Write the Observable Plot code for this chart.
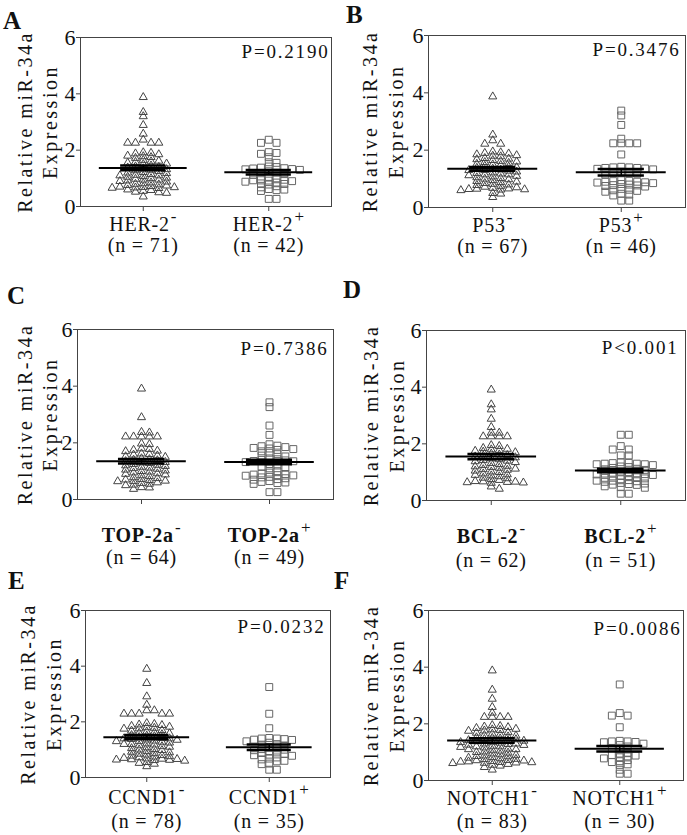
<!DOCTYPE html>
<html><head><meta charset="utf-8">
<script src="https://cdn.jsdelivr.net/npm/d3@7"></script>
<script src="https://cdn.jsdelivr.net/npm/@observablehq/plot@0.6"></script>
<style>
body{margin:0;background:#fff;}
#wrap{position:relative;width:687px;height:835px;overflow:hidden;background:#fff;font-family:"Liberation Serif","Times New Roman",serif;}
.panel{position:absolute;}
.letter{position:absolute;font-weight:bold;font-size:25px;line-height:1;color:#111;font-family:"Liberation Serif","Times New Roman",serif;}
g[aria-description="ylab"] text{letter-spacing:2.5px;}
g[aria-description="pval"] text{letter-spacing:1.8px;}
g[aria-description="catname"] text, g[aria-description="catn"] text{letter-spacing:0.8px;}
</style></head><body><div id="wrap"></div>
<script>
// ---- data (relative miR-34a expression) ----
const her2Neg = [3.88,3.35,3.2,2.89,2.58,2.37,2.26,2.26,2.26,2.26,
  1.92,1.9,1.88,1.85,1.8,1.78,1.75,1.72,
  1.65,1.62,1.6,1.58,1.55,1.52,1.5,
  1.45,1.42,1.4,1.38,1.35,1.32,
  1.28,1.25,1.22,1.2,1.18,1.15,
  1.12,1.1,1.08,1.05,1.02,1.0,
  0.98,0.95,0.92,0.9,0.88,0.85,
  0.82,0.8,0.78,0.76,0.74,0.72,
  0.7,0.69,0.68,0.67,0.66,0.65,
  0.6,0.58,0.55,0.52,0.5,0.48,
  1.3,1.1,0.95,0.35];
const her2Pos = [2.37,2.26,2.26,1.93,1.9,1.87,1.75,1.57,1.55,0.27,0.27,
  1.42,1.4,1.38,1.36,1.35,1.33,1.32,1.3,
  1.25,1.2,1.18,1.15,1.12,
  1.05,1.0,0.98,0.95,0.93,0.92,0.9,
  0.88,0.85,0.82,0.8,0.78,
  0.72,0.68,0.62,0.6,0.58,0.55];
const p53Neg = [3.87,2.54,2.34,2.22,2.22,
  1.95,1.92,1.9,1.88,1.85,1.82,1.8,1.78,
  1.72,1.7,1.68,1.65,1.62,1.6,1.58,
  1.55,1.52,1.5,1.48,1.45,1.42,1.4,
  1.38,1.35,1.32,1.3,1.28,1.25,1.22,
  1.2,1.18,1.15,1.12,1.1,1.08,1.05,
  1.02,1.0,0.98,0.95,0.92,0.9,0.88,
  0.85,0.82,0.8,0.78,0.75,0.72,0.7,
  0.68,0.66,0.65,0.64,0.63,0.62,0.6,
  0.5,0.48,0.36,1.3,1.15];
const p53Pos = [3.38,3.21,2.88,2.4,2.24,2.24,2.24,2.24,1.85,0.24,0.24,
  1.42,1.4,1.4,1.38,1.38,1.36,1.35,1.33,
  1.25,1.22,1.2,1.18,1.15,
  0.95,0.93,0.92,0.9,0.9,0.88,0.87,0.85,
  0.82,0.8,0.78,0.77,0.75,0.73,
  0.65,0.62,0.6,0.58,0.55,
  0.48,0.45,0.42];
const top2aNeg = [3.91,2.9,2.38,2.36,2.22,2.22,2.22,2.22,2.22,
  1.97,1.95,1.8,1.78,1.75,1.72,1.7,
  1.62,1.6,1.58,1.55,1.52,1.5,
  1.45,1.42,1.4,1.38,1.35,1.32,
  1.28,1.25,1.22,1.2,1.18,1.15,
  1.1,1.08,1.05,1.02,1.0,0.98,
  0.95,0.92,0.9,0.88,0.85,0.82,
  0.78,0.75,0.72,0.7,0.68,0.66,0.65,0.64,
  0.6,0.58,0.55,0.52,0.5,
  0.43,0.42,0.37,1.3,1.12];
const top2aPos = [3.43,3.26,2.61,2.28,0.26,0.26,
  1.95,1.9,1.88,1.85,1.82,1.8,1.78,1.75,
  1.7,1.65,1.6,1.55,1.52,
  1.45,1.42,1.4,1.38,1.36,1.35,1.32,
  1.25,1.2,1.15,1.12,1.1,
  1.0,0.95,0.92,0.9,0.88,0.86,0.85,0.84,
  0.8,0.78,0.75,0.72,0.7,
  0.65,0.62,0.6,0.58,0.55];
const bcl2Neg = [3.91,3.39,3.21,2.88,2.59,2.39,2.39,2.26,2.26,2.26,2.26,
  1.95,1.92,1.85,1.82,1.8,1.78,1.75,1.72,1.7,
  1.65,1.62,1.6,1.58,1.55,1.52,
  1.48,1.45,1.42,1.4,1.38,1.35,1.32,
  1.28,1.25,1.22,1.2,1.18,1.15,
  1.12,1.1,1.08,1.05,1.02,1.0,
  0.95,0.92,0.9,0.88,0.85,
  0.8,0.78,0.75,0.72,
  0.68,0.67,0.66,0.65,0.64,0.63,0.62,
  0.49,0.41];
const bcl2Pos = [2.32,2.32,1.92,1.8,1.8,1.59,1.59,0.24,0.24,
  1.35,1.33,1.32,1.3,1.3,1.28,1.28,1.25,
  1.2,1.18,1.15,1.12,1.1,1.08,
  1.02,1.0,0.98,0.96,0.95,0.93,0.92,
  0.9,0.88,0.86,0.85,0.82,0.8,0.78,
  0.75,0.72,0.7,0.7,0.68,0.66,
  0.62,0.6,0.58,0.56,0.55,
  0.5,0.47,0.45];
const ccnd1Neg = [3.9,3.39,2.91,2.61,2.41,2.41,2.29,2.29,2.29,2.29,2.29,
  1.95,1.92,1.9,1.88,1.85,1.82,1.8,1.78,1.76,1.75,
  1.7,1.68,1.65,1.62,1.6,1.58,1.55,1.52,
  1.5,1.48,1.45,1.42,1.4,1.38,1.36,1.35,
  1.32,1.3,1.28,1.25,1.22,1.2,1.18,
  1.15,1.12,1.1,1.08,1.05,1.02,1.0,
  0.98,0.95,0.92,0.9,0.88,0.85,0.82,
  0.8,0.78,0.76,0.75,0.72,0.7,
  0.68,0.67,0.66,0.65,0.64,0.63,0.62,0.6,
  0.55,0.52,0.49,0.4,1.4,1.3,1.2];
const ccnd1Pos = [3.25,2.29,1.77,0.28,0.28,
  1.42,1.4,1.4,1.38,1.36,1.35,
  1.3,1.25,1.2,1.18,1.15,
  1.1,1.05,1.02,1.0,0.98,0.95,
  0.9,0.88,0.85,0.82,0.8,0.78,
  0.72,0.68,0.65,0.6,0.58,
  0.5,0.48];
const notch1Neg = [3.88,3.2,2.88,2.59,2.39,2.24,2.24,2.24,2.24,
  1.95,1.92,1.9,1.88,1.85,1.82,1.8,1.78,1.76,1.75,
  1.7,1.68,1.65,1.62,1.6,1.58,1.55,1.52,1.5,
  1.48,1.46,1.45,1.42,1.4,1.38,1.36,1.35,1.33,
  1.3,1.28,1.26,1.25,1.22,1.2,1.18,1.16,
  1.12,1.1,1.08,1.05,1.02,1.0,0.98,
  0.95,0.92,0.9,0.88,0.86,0.85,0.82,
  0.8,0.78,0.76,0.75,0.72,0.71,0.7,
  0.68,0.67,0.66,0.65,0.64,0.63,0.62,0.61,
  0.58,0.55,0.52,0.47,0.38,
  1.42,1.3,1.2,1.1];
const notch1Pos = [3.39,2.38,2.29,2.29,1.88,0.24,0.24,
  1.4,1.38,1.38,1.36,1.35,1.3,
  1.25,1.2,1.15,1.1,
  0.98,0.95,0.9,0.88,0.85,0.82,
  0.78,0.72,0.68,0.65,
  0.57,0.55,0.38];

const negGroups = [her2Neg, p53Neg, top2aNeg, bcl2Neg, ccnd1Neg, notch1Neg];
const posGroups = [her2Pos, p53Pos, top2aPos, bcl2Pos, ccnd1Pos, notch1Pos];
const negNames = ["HER-2\u207B","P53\u207B","TOP-2a\u207B","BCL-2\u207B","CCND1\u207B","NOTCH1\u207B"];
const posNames = ["HER-2\u207A","P53\u207A","TOP-2a\u207A","BCL-2\u207A","CCND1\u207A","NOTCH1\u207A"];
const negN = ["(n = 71)","(n = 67)","(n = 64)","(n = 62)","(n = 78)","(n = 83)"];
const posN = ["(n = 42)","(n = 46)","(n = 49)","(n = 51)","(n = 35)","(n = 30)"];
const pLabels = ["P=0.2190","P=0.3476","P=0.7386","P<0.001","P=0.0232","P=0.0086"];
const panelLetters = ["A","B","C","D","E","F"];
const meanNeg = [1.37,1.35,1.35,1.55,1.45,1.41];
const meanPos = [1.22,1.23,1.32,1.06,1.09,1.12];
const semNeg = [0.085,0.065,0.08,0.09,0.08,0.08];
const semPos = [0.08,0.11,0.08,0.065,0.1,0.1];
const yTicks = [0,2,4,6];
const yLabelLines = ["Relative miR-34a","Expression"];

// ---- layout (positions/sizes only) ----
const layout = [
  {left:0,  top:0,   w:343, h:270, mL:80, mR:12, mT:37, mB:64, nameDy:18, nDy:39, y1:-55, y2:-30, pDx:-2, pDy:14, lx:3, ly:8, bold:false},
  {left:343,top:0,   w:344, h:270, mL:85, mR:2,  mT:35, mB:63, nameDy:18, nDy:39, y1:-58, y2:-32, pDx:-5, pDy:14, lx:3, ly:2, bold:false},
  {left:0,  top:280, w:343, h:280, mL:77, mR:10, mT:49, mB:61, nameDy:36, nDy:58, y1:-52, y2:-27, pDx:-5, pDy:19.5, lx:7, ly:3, bold:true},
  {left:343,top:280, w:344, h:280, mL:83, mR:2,  mT:50, mB:60, nameDy:36, nDy:60, y1:-55, y2:-29, pDx:-7, pDy:17.5, lx:0, ly:-3, bold:true},
  {left:0,  top:560, w:343, h:275, mL:85, mR:13, mT:50, mB:58, nameDy:20, nDy:44, y1:-57, y2:-31, pDx:-5, pDy:16, lx:8, ly:8, bold:false},
  {left:343,top:560, w:344, h:275, mL:85, mR:4,  mT:50, mB:55, nameDy:18, nDy:41, y1:-57, y2:-31, pDx:-2, pDy:18, lx:-9, ly:8, bold:false}
];

// column-scatter layout: points with close values are placed side by side
function swarm(values, g, step, dv) {
  const order = d3.range(values.length).sort((a, b) => d3.descending(values[a], values[b]));
  const placed = [], pts = [];
  for (const i of order) {
    const v = values[i];
    const near = placed.filter(p => Math.abs(p.v - v) < dv);
    let o = 0;
    for (let k = 0; k < 400; k++) {
      const c = k === 0 ? 0 : (k % 2 ? 1 : -1) * Math.ceil(k / 2) * 0.5;
      if (near.every(p => Math.abs(p.o - c) >= 1)) { o = c; break; }
    }
    placed.push({v, o});
    pts.push({g, v, x: g + o * step});
  }
  return pts;
}

// raise the trailing ⁻ / ⁺ of a category name as a larger superscript
function superscripts(svg) {
  svg.querySelectorAll('g[aria-description="catname"] text').forEach(t => {
    const s = t.textContent;
    const last = s.slice(-1);
    if (last === "\u207B" || last === "\u207A") {
      t.textContent = s.slice(0, -1);
      const ts = document.createElementNS("http://www.w3.org/2000/svg", "tspan");
      ts.setAttribute("dy", "-0.55em");
      ts.setAttribute("dx", "1");
      ts.setAttribute("font-size", "85%");
      ts.setAttribute("font-weight", "normal");
      ts.textContent = last === "\u207B" ? "-" : "+";
      t.appendChild(ts);
    }
  });
}

const wrap = document.getElementById("wrap");
layout.forEach((L, i) => {
  const negPts = swarm(negGroups[i], 0, 0.062, 0.13);
  const posPts = swarm(posGroups[i], 1, 0.062, 0.13);
  const stats = [
    {g: 0, mean: meanNeg[i], sem: semNeg[i]},
    {g: 1, mean: meanPos[i], sem: semPos[i]}
  ];
  const caps = stats.flatMap(s => [{g: s.g, y: s.mean - s.sem}, {g: s.g, y: s.mean + s.sem}]);
  const cats = [
    {g: 0, name: negNames[i], n: negN[i]},
    {g: 1, name: posNames[i], n: posN[i]}
  ];
  const svg = Plot.plot({
    width: L.w, height: L.h,
    marginLeft: L.mL, marginRight: L.mR, marginTop: L.mT, marginBottom: L.mB,
    x: {domain: [-0.5, 1.5], label: null},
    y: {domain: [0, 6], label: null},
    style: {fontFamily: "'Liberation Serif','Times New Roman',serif", fontSize: "20px", color: "#111", background: "transparent", overflow: "visible"},
    marks: [
      Plot.frame({stroke: "#444", strokeWidth: 1}),
      Plot.axisY({ticks: yTicks, tickFormat: d3.format("d"), tickSize: 4, tickPadding: 1, fontSize: 22, label: null, stroke: "#444"}),
      Plot.axisX({ticks: [0, 1], tickSize: 5, tickFormat: () => "", label: null, stroke: "#444"}),
      Plot.dot(negPts, {x: "x", y: "v", symbol: "triangle", r: 3, stroke: "#444", fill: "none", strokeWidth: 1}),
      Plot.dot(posPts, {x: "x", y: "v", symbol: "square", r: 3.9, stroke: "#666", fill: "none", strokeWidth: 1}),
      Plot.ruleY(stats, {y: "mean", x1: d => d.g - 0.35, x2: d => d.g + 0.35, stroke: "#000", strokeWidth: 2}),
      Plot.ruleY(caps, {y: "y", x1: d => d.g - 0.18, x2: d => d.g + 0.18, stroke: "#000", strokeWidth: 2.5}),
      Plot.ruleX(stats, {x: "g", y1: d => d.mean - d.sem, y2: d => d.mean + d.sem, stroke: "#000", strokeWidth: 1.5}),
      Plot.text(cats, {x: "g", text: "name", frameAnchor: "bottom", lineAnchor: "middle", dy: L.nameDy, fontSize: 20, fontWeight: L.bold ? "bold" : "normal", fill: "#111", ariaDescription: "catname"}),
      Plot.text(cats, {x: "g", text: "n", frameAnchor: "bottom", lineAnchor: "middle", dy: L.nDy, fontSize: 20, fill: "#111", ariaDescription: "catn"}),
      Plot.text([pLabels[i]], {text: d => d, frameAnchor: "top-right", textAnchor: "end", lineAnchor: "middle", dx: L.pDx, dy: L.pDy, fontSize: 19, fill: "#111", ariaDescription: "pval"}),
      Plot.text([yLabelLines[0]], {text: d => d, frameAnchor: "left", rotate: -90, lineAnchor: "middle", textAnchor: "middle", dx: L.y1, fontSize: 20, fill: "#111", ariaDescription: "ylab"}),
      Plot.text([yLabelLines[1]], {text: d => d, frameAnchor: "left", rotate: -90, lineAnchor: "middle", textAnchor: "middle", dx: L.y2, fontSize: 20, fill: "#111", ariaDescription: "ylab"})
    ]
  });
  superscripts(svg);
  svg.classList.add("panel");
  svg.style.left = L.left + "px";
  svg.style.top = L.top + "px";
  wrap.appendChild(svg);
  const lt = document.createElement("div");
  lt.className = "letter";
  lt.textContent = panelLetters[i];
  lt.style.left = (L.left + L.lx) + "px";
  lt.style.top = (L.top + L.ly) + "px";
  wrap.appendChild(lt);
});
</script></body></html>
